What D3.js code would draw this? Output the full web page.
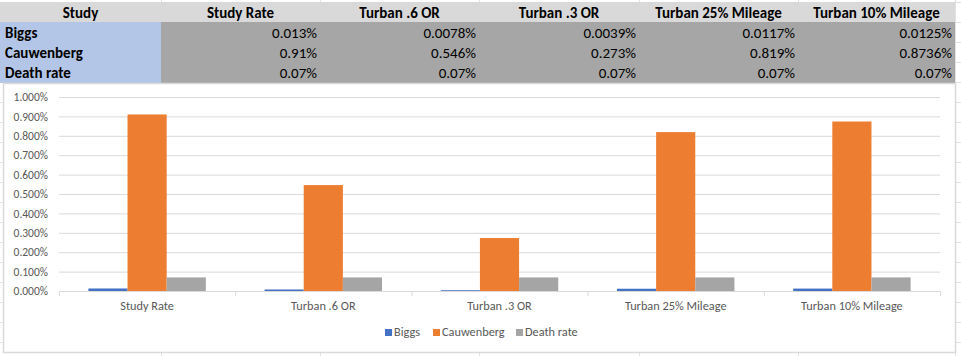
<!DOCTYPE html>
<html><head><meta charset="utf-8">
<script src="https://cdn.jsdelivr.net/npm/d3@7"></script>
<style>
html,body{margin:0;padding:0;background:#fff;}
svg{display:block;}
</style></head>
<body>
<svg id="c" width="961" height="356"></svg>
<script>
const categories = ["Study Rate", "Turban .6 OR", "Turban .3 OR", "Turban 25% Mileage", "Turban 10% Mileage"];
const seriesNames = ["Biggs", "Cauwenberg", "Death rate"];
const biggs = [0.013, 0.0078, 0.0039, 0.0117, 0.0125];
const cauwenberg = [0.91, 0.546, 0.273, 0.819, 0.8736];
const deathRate = [0.07, 0.07, 0.07, 0.07, 0.07];
const yTicks = [0, 0.1, 0.2, 0.3, 0.4, 0.5, 0.6, 0.7, 0.8, 0.9, 1.0];
const headerLabel = "Study";

const seriesValues = [biggs, cauwenberg, deathRate];
const colors = ["#4472C4", "#ED7D31", "#A5A5A5"];

const svg = d3.select("#c");
const W = 961, H = 356;
const FONT = "Carlito, Calibri, Lato, 'Open Sans', sans-serif";

// spreadsheet background gridlines
const colEdges = [0, 161, 320, 479, 639, 798, 955];
const gGrid = svg.append("g");
d3.range(2, H, 20).forEach(y => {
  gGrid.append("line").attr("x1", 0).attr("x2", W).attr("y1", y + 0.5).attr("y2", y + 0.5)
    .attr("stroke", "#e1e1e1");
});
colEdges.slice(1).forEach(x => {
  gGrid.append("line").attr("x1", x + 0.5).attr("x2", x + 0.5).attr("y1", 0).attr("y2", H)
    .attr("stroke", "#e1e1e1");
});

// table
const rowTop = [2, 22, 42, 62];
const rowH = [20, 20, 20, 21];
const gT = svg.append("g").attr("font-family", FONT).attr("font-size", "15px");
gT.append("rect").attr("x", 0).attr("y", rowTop[0]).attr("width", colEdges[6]).attr("height", rowH[0]).attr("fill", "#d9d9d9");
const headers = [headerLabel].concat(categories);
headers.forEach((h, i) => {
  gT.append("text").attr("x", (colEdges[i] + colEdges[i + 1]) / 2).attr("y", rowTop[0] + 15.5)
    .attr("text-anchor", "middle").attr("font-weight", "bold").attr("fill", "#000").text(h);
});
gT.append("rect").attr("x", 0).attr("y", rowTop[1]).attr("width", colEdges[1]).attr("height", 61).attr("fill", "#b4c6e7");
gT.append("rect").attr("x", colEdges[1]).attr("y", rowTop[1]).attr("width", colEdges[6] - colEdges[1]).attr("height", 61).attr("fill", "#a6a6a6");
seriesNames.forEach((s, r) => {
  const yb = rowTop[r + 1] + 15.5;
  gT.append("text").attr("x", 5).attr("y", yb).attr("font-weight", "bold").attr("fill", "#000").text(s);
  seriesValues[r].forEach((v, c) => {
    gT.append("text").attr("x", colEdges[c + 2] - 3).attr("y", yb).attr("text-anchor", "end")
      .attr("fill", "#000").text(String(v) + "%");
  });
});

// chart area
const chart = svg.append("g");
chart.append("rect").attr("x", 3.5).attr("y", 83.5).attr("width", 952).attr("height", 269)
  .attr("fill", "#fff").attr("stroke", "#d9d9d9").attr("stroke-width", 1.5);

const plot = {left: 59, right: 940, top: 97, bottom: 291};
const x0 = d3.scaleBand().domain(categories).range([plot.left, plot.right]).paddingInner(0).paddingOuter(0);
const x1 = d3.scaleBand().domain(seriesNames).range([0, x0.bandwidth()]).paddingInner(0).paddingOuter(0.75);
const y = d3.scaleLinear().domain([0, 1.0]).range([plot.bottom, plot.top]);

const CF = FONT;
const yAxis = d3.axisLeft(y).tickValues(yTicks).tickFormat(d => d3.format(".3f")(d) + "%")
  .tickSize(-(plot.right - plot.left)).tickPadding(11);
const gy = chart.append("g").attr("transform", `translate(${plot.left},0)`).call(yAxis);
gy.select(".domain").remove();
gy.selectAll(".tick line").attr("stroke", "#d9d9d9");
gy.selectAll(".tick text").attr("fill", "#595959").attr("font-family", CF).attr("font-size", "11.5px");

const gB = chart.append("g");
categories.forEach((cat, ci) => {
  seriesNames.forEach((s, si) => {
    const v = seriesValues[si][ci];
    gB.append("rect").attr("x", x0(cat) + x1(s)).attr("width", x1.bandwidth())
      .attr("y", y(v)).attr("height", y(0) - y(v)).attr("fill", colors[si]);
  });
});

const xAxis = d3.axisBottom(x0).tickSize(0).tickPadding(10);
const gx = chart.append("g").attr("transform", `translate(0,${plot.bottom})`).call(xAxis);
gx.select(".domain").attr("stroke", "#d9d9d9");
gx.selectAll(".tick text").attr("fill", "#595959").attr("font-family", CF).attr("font-size", "12.3px");
const bounds = categories.map(c => x0(c)).concat([plot.right]);
gx.selectAll(".bnd").data(bounds).enter().append("line")
  .attr("x1", d => d + 0.5).attr("x2", d => d + 0.5).attr("y1", 0).attr("y2", 5).attr("stroke", "#d9d9d9");

const legendX = [385, 433, 516];
const gL = chart.append("g").attr("font-family", CF).attr("font-size", "12.3px");
seriesNames.forEach((s, i) => {
  gL.append("rect").attr("x", legendX[i]).attr("y", 329).attr("width", 7).attr("height", 7).attr("fill", colors[i]);
  gL.append("text").attr("x", legendX[i] + 9).attr("y", 336).attr("fill", "#595959").text(s);
});
</script>
</body></html>
